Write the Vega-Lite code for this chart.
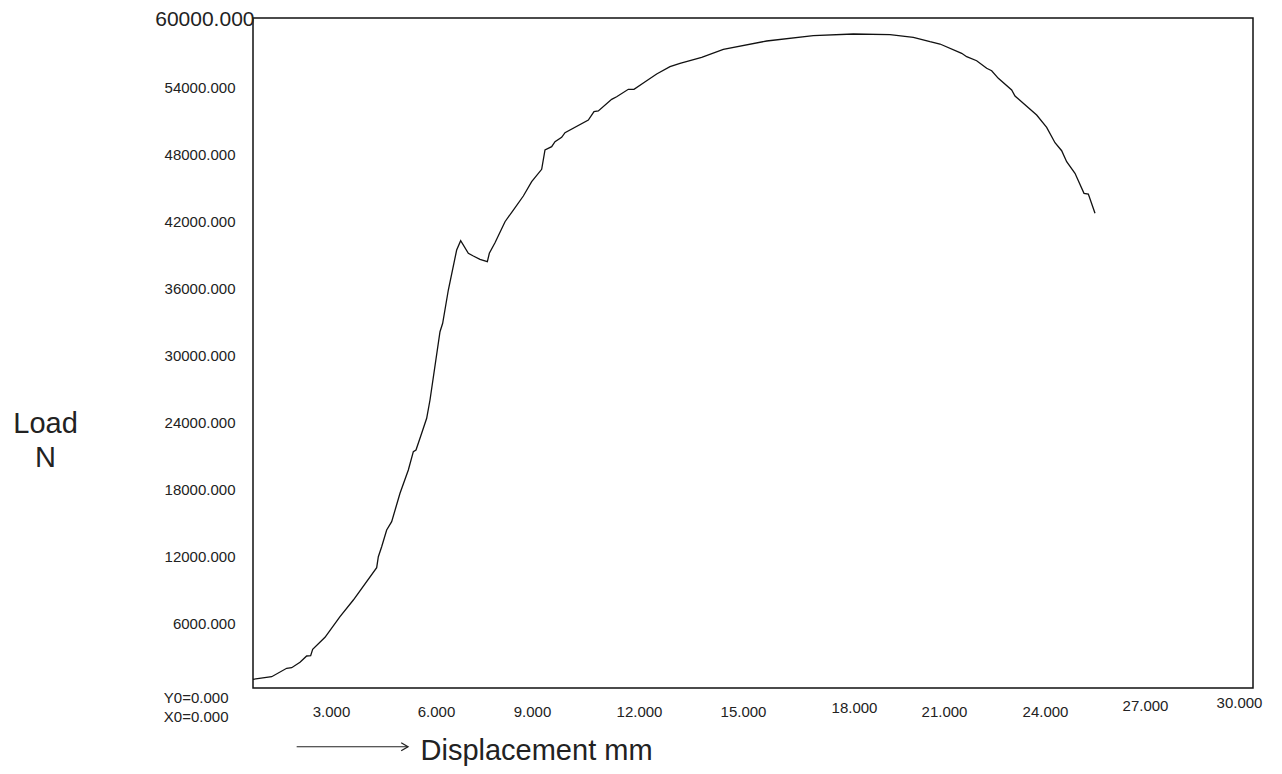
{
  "$schema": "https://vega.github.io/schema/vega-lite/v6.json",
  "width": 1000,
  "height": 670,
  "autosize": {"type": "none"},
  "padding": {"left": 253, "top": 18, "right": 29, "bottom": 86},
  "background": "white",
  "config": {
    "view": {"stroke": "#111", "strokeWidth": 1.5},
    "font": "Liberation Sans"
  },
  "data": {
    "values": [
      {"x": 0.0, "y": 780}, {"x": 0.56, "y": 1012}, {"x": 1.01, "y": 1764}, {"x": 1.16, "y": 1818},
      {"x": 1.41, "y": 2301}, {"x": 1.61, "y": 2866}, {"x": 1.73, "y": 2892}, {"x": 1.79, "y": 3466},
      {"x": 2.16, "y": 4540}, {"x": 2.61, "y": 6385}, {"x": 3.01, "y": 7880}, {"x": 3.71, "y": 10773},
      {"x": 3.76, "y": 11758}, {"x": 3.86, "y": 12653}, {"x": 4.01, "y": 14149}, {"x": 4.16, "y": 14892},
      {"x": 4.41, "y": 17436}, {"x": 4.66, "y": 19522}, {"x": 4.81, "y": 21161}, {"x": 4.89, "y": 21313},
      {"x": 5.06, "y": 22809}, {"x": 5.21, "y": 24152}, {"x": 5.31, "y": 25790}, {"x": 5.61, "y": 31907},
      {"x": 5.69, "y": 32658}, {"x": 5.86, "y": 35641}, {"x": 6.11, "y": 39223}, {"x": 6.23, "y": 40056},
      {"x": 6.46, "y": 38928}, {"x": 6.61, "y": 38686}, {"x": 6.81, "y": 38390}, {"x": 7.03, "y": 38175},
      {"x": 7.09, "y": 38928}, {"x": 7.26, "y": 39877}, {"x": 7.56, "y": 41757}, {"x": 7.81, "y": 42805},
      {"x": 8.11, "y": 44059}, {"x": 8.36, "y": 45340}, {"x": 8.66, "y": 46450}, {"x": 8.76, "y": 48178},
      {"x": 8.96, "y": 48474}, {"x": 9.06, "y": 48922}, {"x": 9.26, "y": 49316}, {"x": 9.36, "y": 49728},
      {"x": 10.06, "y": 50865}, {"x": 10.23, "y": 51608}, {"x": 10.36, "y": 51671}, {"x": 10.76, "y": 52719},
      {"x": 10.91, "y": 52951}, {"x": 11.26, "y": 53614}, {"x": 11.43, "y": 53614}, {"x": 11.81, "y": 54384},
      {"x": 12.11, "y": 54984}, {"x": 12.51, "y": 55638}, {"x": 12.81, "y": 55942}, {"x": 13.46, "y": 56479},
      {"x": 14.11, "y": 57196}, {"x": 15.41, "y": 57939}, {"x": 16.81, "y": 58413}, {"x": 18.01, "y": 58566},
      {"x": 19.11, "y": 58503}, {"x": 19.81, "y": 58270}, {"x": 20.31, "y": 57876}, {"x": 20.61, "y": 57670},
      {"x": 21.26, "y": 56837}, {"x": 21.41, "y": 56533}, {"x": 21.71, "y": 56175}, {"x": 22.01, "y": 55494},
      {"x": 22.16, "y": 55279}, {"x": 22.36, "y": 54598}, {"x": 22.76, "y": 53551}, {"x": 22.86, "y": 53013},
      {"x": 23.51, "y": 51312}, {"x": 23.81, "y": 50210}, {"x": 24.06, "y": 48832}, {"x": 24.26, "y": 48115},
      {"x": 24.41, "y": 47130}, {"x": 24.66, "y": 46091}, {"x": 24.93, "y": 44300}, {"x": 25.06, "y": 44238},
      {"x": 25.26, "y": 42509}
    ]
  },
  "layer": [
    {
      "mark": {"type": "line", "stroke": "#111", "strokeWidth": 1.3},
      "encoding": {
        "x": {
          "field": "x", "type": "quantitative",
          "scale": {"domain": [0, 30], "nice": false, "zero": false},
          "axis": {
            "values": [0, 3, 6, 9, 12, 15, 18, 21, 24, 27, 30],
            "domain": false, "ticks": false, "tickSize": 0, "grid": false,
            "labelExpr": "datum.value == 0 ? '' : format(datum.value, '.3f')",
            "labelFont": "Liberation Sans", "labelFontSize": 15, "labelColor": "#222",
            "labelBaseline": "middle",
            "labelOverlap": false, "labelFlush": false, "labelBound": false,
            "labelOffset": {
              "condition": [
                {"test": "datum.value == 3", "value": -22},
                {"test": "datum.value == 6", "value": -17},
                {"test": "datum.value == 9", "value": -21},
                {"test": "datum.value == 12", "value": -14},
                {"test": "datum.value == 15", "value": -10},
                {"test": "datum.value == 18", "value": 1},
                {"test": "datum.value == 21", "value": -9},
                {"test": "datum.value == 24", "value": -8},
                {"test": "datum.value == 27", "value": -8},
                {"test": "datum.value == 30", "value": -14}
              ],
              "value": 0
            },
            "labelPadding": {
              "condition": [
                {"test": "datum.value == 18", "value": 19},
                {"test": "datum.value == 27", "value": 17.5},
                {"test": "datum.value == 30", "value": 14.5}
              ],
              "value": 23
            },
            "title": "Displacement mm",
            "titleFont": "Liberation Sans", "titleFontSize": 29, "titleFontWeight": "normal", "titleColor": "#222",
            "titleAlign": "left", "titleBaseline": "alphabetic", "titleX": 167, "titleY": 71
          }
        },
        "y": {
          "field": "y", "type": "quantitative",
          "scale": {"domain": [0, 60000], "nice": false, "zero": false},
          "axis": {
            "values": [0, 6000, 12000, 18000, 24000, 30000, 36000, 42000, 48000, 54000, 60000],
            "domain": false, "ticks": false, "tickSize": 0, "grid": false,
            "labelExpr": "datum.value == 0 ? ['Y0=0.000', 'X0=0.000'] : format(datum.value, '.3f')",
            "labelFont": "Liberation Sans", "labelColor": "#222",
            "labelAlign": "right", "labelBaseline": "middle", "labelLineHeight": 19,
            "labelOverlap": false, "labelFlush": false, "labelBound": false,
            "labelFontSize": {
              "condition": [
                {"test": "datum.value == 60000", "value": 21}
              ],
              "value": 15
            },
            "labelPadding": {
              "condition": [
                {"test": "datum.value == 60000", "value": -1},
                {"test": "datum.value == 0", "value": 25}
              ],
              "value": 18
            },
            "labelOffset": {
              "condition": [
                {"test": "datum.value == 60000", "value": 1},
                {"test": "datum.value == 0", "value": 9}
              ],
              "value": 2
            },
            "title": ["Load", "N"],
            "titleFont": "Liberation Sans", "titleFontSize": 29, "titleFontWeight": "normal", "titleColor": "#222",
            "titleAngle": 0, "titleAlign": "center", "titleBaseline": "alphabetic",
            "titleLineHeight": 34, "titleX": -208, "titleY": 414
          }
        }
      }
    },
    {
      "data": {"values": [{}]},
      "mark": {"type": "rule", "stroke": "#222", "strokeWidth": 1.1},
      "encoding": {
        "x": {"datum": 1.31, "type": "quantitative"},
        "x2": {"datum": 4.65},
        "y": {"datum": -5257, "type": "quantitative"}
      }
    },
    {
      "data": {"values": [{}]},
      "mark": {"type": "point", "shape": "M-1.7,-1L0,0L-1.7,1", "filled": false, "stroke": "#222", "strokeWidth": 1.3, "size": 64, "opacity": 1},
      "encoding": {
        "x": {"datum": 4.65, "type": "quantitative"},
        "y": {"datum": -5257, "type": "quantitative"}
      }
    }
  ]
}
